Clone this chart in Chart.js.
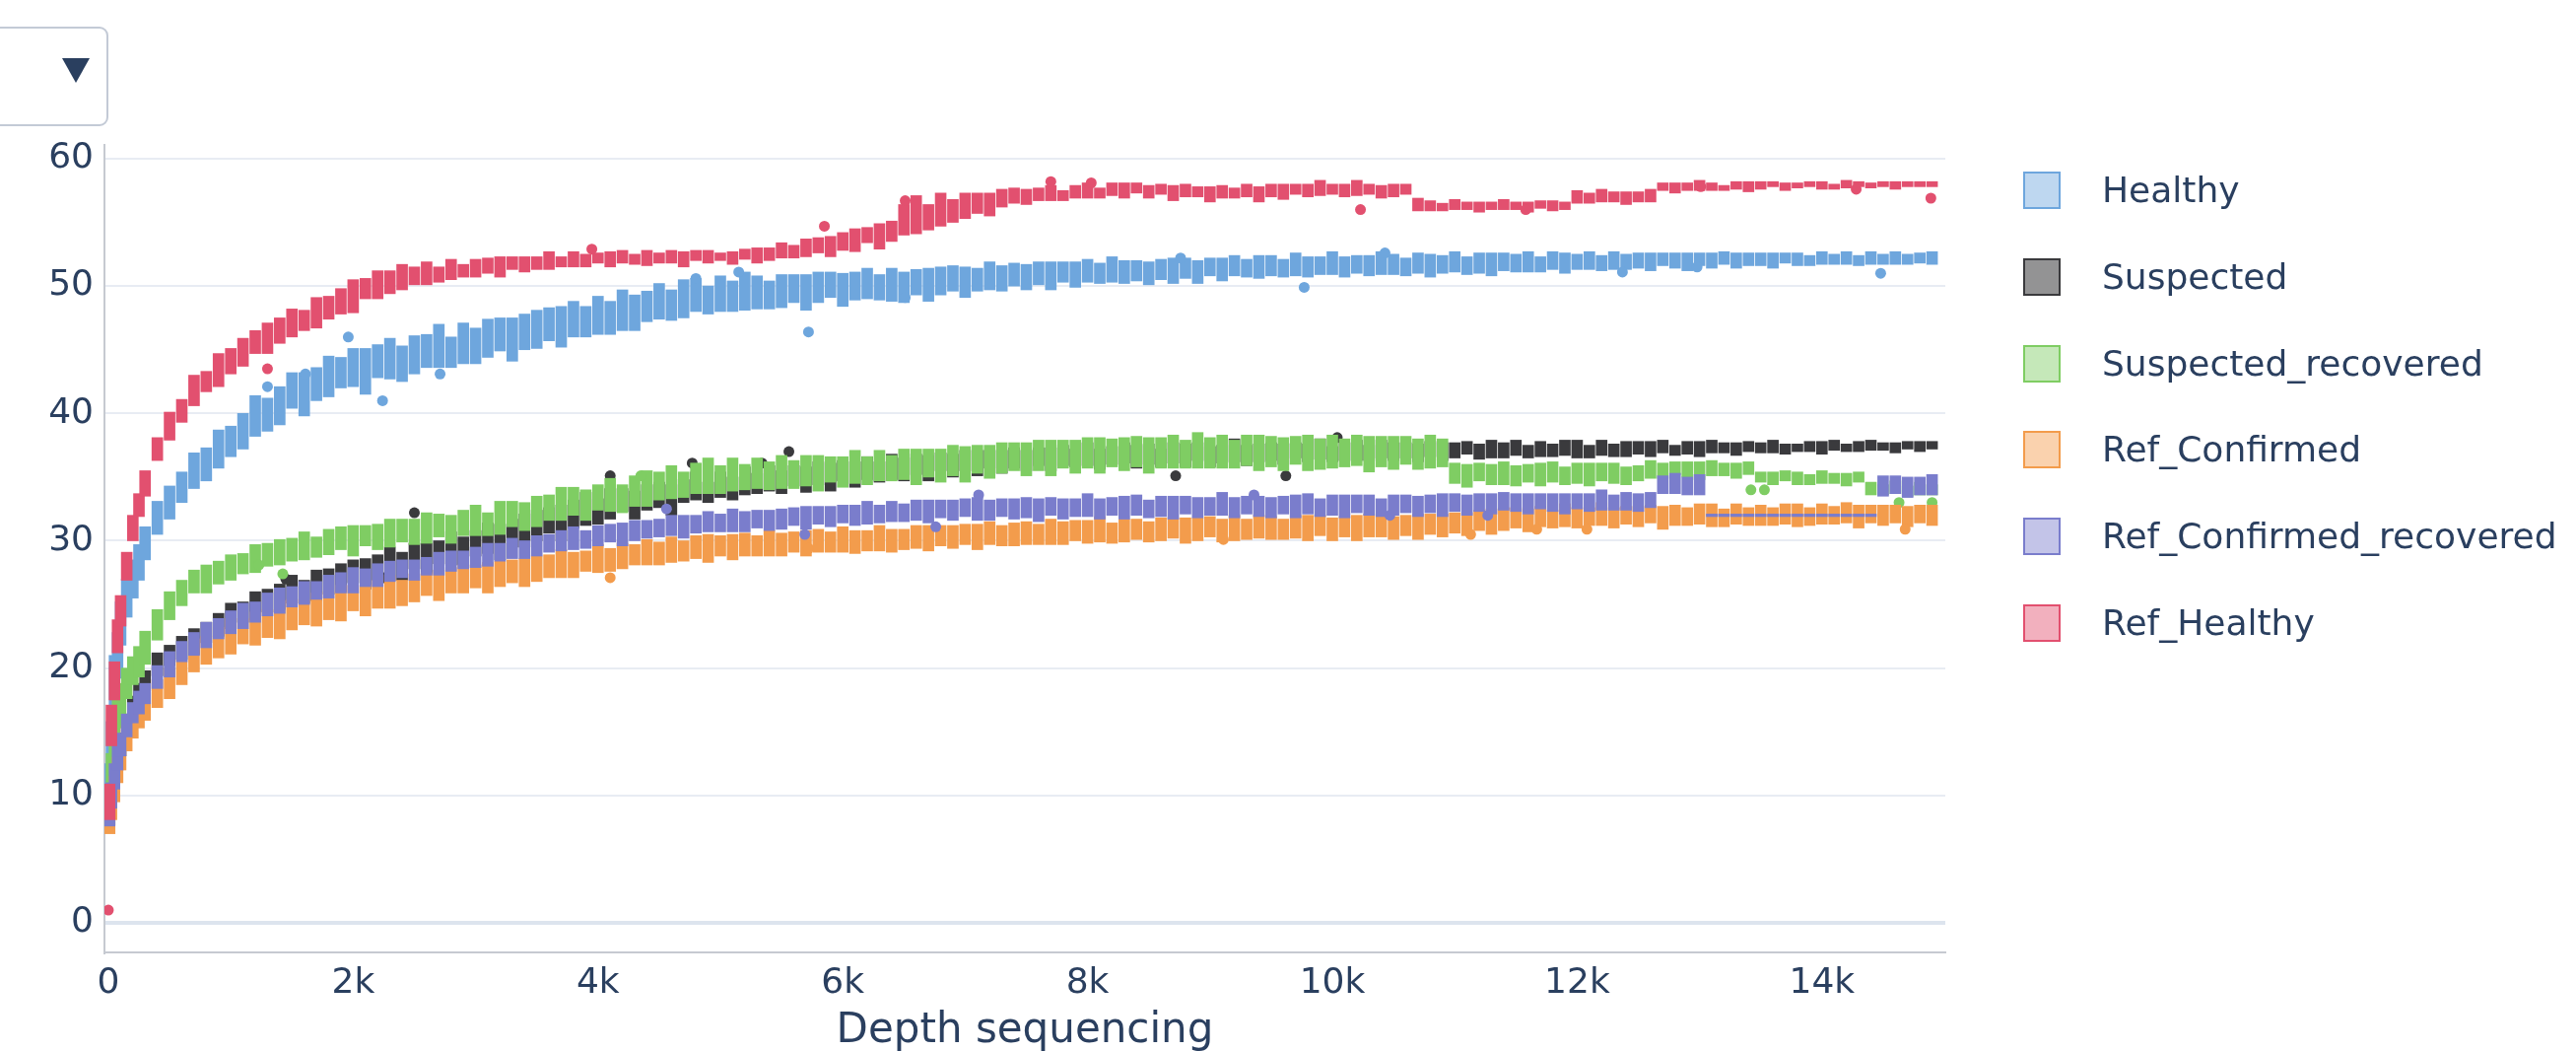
<!DOCTYPE html>
<html><head><meta charset="utf-8">
<script src="https://cdn.jsdelivr.net/npm/chart.js@4.4.1/dist/chart.umd.min.js"></script>
<style>
html,body{margin:0;padding:0;background:#fff;width:2614px;height:1066px;overflow:hidden;position:relative;font-family:"DejaVu Sans",sans-serif;}
#c{position:absolute;left:0;top:0;}
.dd{position:absolute;left:-20px;top:27px;width:126px;height:97px;border:2px solid #c3cad6;border-radius:9px;background:#fff;}
.tri{position:absolute;left:63px;top:59px;width:0;height:0;border-left:14px solid transparent;border-right:14px solid transparent;border-top:25px solid #2a3f5f;}
.li{position:absolute;left:2053px;height:40px;white-space:nowrap;}
.sw{position:absolute;left:0;top:1px;width:34px;height:34px;border:2px solid;}
.lt{position:absolute;left:80px;top:0;font-size:36px;color:#2a3f5f;line-height:40px;}
</style></head>
<body>
<canvas id="c" width="2614" height="1066"></canvas>
<div class="dd"></div><div class="tri"></div>
<div id="legend"></div>
<script>
// ---- categories (sequencing depths) ----
const depths = [
10,25,50,75,100,150,200,250,300,400,
500,600,700,800,900,1000,1100,1200,1300,1400,
1500,1600,1700,1800,1900,2000,2100,2200,2300,2400,
2500,2600,2700,2800,2900,3000,3100,3200,3300,3400,
3500,3600,3700,3800,3900,4000,4100,4200,4300,4400,
4500,4600,4700,4800,4900,5000,5100,5200,5300,5400,
5500,5600,5700,5800,5900,6000,6100,6200,6300,6400,
6500,6600,6700,6800,6900,7000,7100,7200,7300,7400,
7500,7600,7700,7800,7900,8000,8100,8200,8300,8400,
8500,8600,8700,8800,8900,9000,9100,9200,9300,9400,
9500,9600,9700,9800,9900,10000,10100,10200,10300,10400,
10500,10600,10700,10800,10900,11000,11100,11200,11300,11400,
11500,11600,11700,11800,11900,12000,12100,12200,12300,12400,
12500,12600,12700,12800,12900,13000,13100,13200,13300,13400,
13500,13600,13700,13800,13900,14000,14100,14200,14300,14400,
14500,14600,14700,14800,14900];

// ---- box centres and half heights per series ----
const healthyMid = [
11.0,14.0,19.0,21.0,23.5,25.5,27.0,28.3,29.8,31.8,
33.0,34.2,35.5,36.0,37.2,37.8,38.6,39.8,39.9,40.6,
41.8,41.5,42.3,42.9,43.2,43.6,43.3,44.1,44.3,43.9,
44.6,44.9,45.3,44.8,45.5,45.3,45.9,46.2,45.8,46.4,
46.6,47.0,46.8,47.4,47.2,47.7,47.5,48.1,47.9,48.4,
48.8,48.5,49.0,49.3,48.9,49.4,49.2,49.6,49.5,49.3,
49.6,49.8,49.5,49.9,50.1,49.7,50.0,50.2,49.9,50.1,
49.9,50.3,50.1,50.4,50.6,50.3,50.5,50.8,50.6,50.9,
50.7,51.0,50.8,51.1,50.9,51.2,51.0,51.3,51.1,51.2,
51.0,51.3,51.2,51.4,51.1,51.5,51.3,51.6,51.4,51.5,
51.6,51.4,51.7,51.5,51.6,51.8,51.5,51.7,51.6,51.8,
51.7,51.5,51.8,51.6,51.7,51.9,51.6,51.8,51.7,51.9,
51.8,51.9,51.7,52.0,51.8,51.9,52.0,51.8,52.0,51.9,
52.0,51.9,52.1,52.0,51.9,52.1,52.0,52.2,52.0,52.1,
52.1,52.0,52.2,52.1,52.0,52.2,52.1,52.2,52.0,52.2,
52.1,52.2,52.1,52.2,52.2];
const healthyHalf = [
1.5,1.8,2.0,1.8,1.7,1.5,1.5,1.4,1.3,1.3,
1.3,1.2,1.4,1.3,1.5,1.2,1.4,1.6,1.3,1.5,
1.4,1.7,1.3,1.6,1.2,1.5,1.8,1.3,1.6,1.4,
1.5,1.3,1.7,1.2,1.6,1.4,1.5,1.3,1.7,1.4,
1.5,1.3,1.6,1.4,1.2,1.5,1.3,1.6,1.4,1.2,
1.4,1.2,1.5,1.3,1.1,1.4,1.2,1.5,1.3,1.1,
1.3,1.1,1.4,1.2,1.0,1.3,1.1,1.2,1.0,1.3,
1.2,1.0,1.3,1.1,1.0,1.2,0.9,1.1,1.0,0.9,
1.0,0.9,1.1,0.8,1.0,0.9,0.8,1.0,0.9,0.8,
0.9,0.8,1.0,0.8,0.9,0.7,0.9,0.8,0.7,0.9,
0.8,0.7,0.9,0.8,0.7,0.9,0.8,0.7,0.8,0.9,
0.8,0.7,0.8,0.9,0.7,0.8,0.7,0.8,0.9,0.7,
0.7,0.8,0.6,0.7,0.8,0.6,0.7,0.6,0.7,0.6,
0.6,0.7,0.5,0.6,0.7,0.5,0.6,0.5,0.6,0.5,
0.5,0.6,0.4,0.5,0.4,0.5,0.4,0.5,0.4,0.5,
0.4,0.5,0.4,0.4,0.5];

const suspectedMid = [
8.5,10.0,11.5,13.0,14.0,15.5,17.0,18.0,19.0,20.3,
21.0,21.6,22.1,22.8,23.4,24.1,24.4,24.9,25.3,25.6,
26.2,26.0,26.5,26.8,27.1,27.6,27.4,27.9,28.2,28.0,
28.8,28.6,29.1,29.4,29.2,29.8,30.2,29.9,30.6,30.8,
31.2,31.6,31.4,32.1,32.5,32.3,32.9,33.2,32.8,33.4,
33.6,33.2,33.9,34.3,33.8,34.4,34.1,34.7,34.5,34.9,
34.6,35.1,34.8,35.3,35.0,35.5,35.2,35.7,35.4,35.8,
35.6,36.0,35.7,36.2,35.9,36.3,36.1,36.4,36.2,36.5,
36.3,36.6,36.4,36.7,36.5,36.8,36.4,36.7,36.9,36.6,
36.8,36.5,36.9,36.7,37.0,36.6,36.8,37.1,36.7,36.9,
37.0,36.8,37.1,36.9,37.2,36.8,37.0,37.1,36.9,37.2,
37.0,37.1,36.9,37.2,37.0,37.1,37.3,37.0,37.2,37.1,
37.3,37.0,37.2,37.1,37.3,37.2,37.0,37.3,37.1,37.2,
37.3,37.2,37.4,37.1,37.3,37.2,37.4,37.3,37.2,37.4,
37.3,37.4,37.2,37.3,37.4,37.3,37.5,37.3,37.4,37.5,
37.4,37.3,37.5,37.4,37.5];
const suspectedHalf = [
0.8,0.9,1.0,1.0,0.9,0.9,0.8,0.8,0.8,0.9,
0.8,0.9,1.0,0.8,0.9,1.0,0.8,1.1,0.9,1.0,
1.1,0.9,1.2,1.0,1.1,0.9,1.2,1.0,1.3,1.1,
1.0,1.2,0.9,1.3,1.1,1.0,1.2,1.4,1.1,1.3,
1.2,1.0,1.4,1.1,1.3,1.0,1.2,0.9,1.1,1.0,
1.0,1.2,0.9,1.1,0.8,1.0,0.9,1.1,0.8,1.0,
0.9,0.8,1.0,0.9,1.1,0.8,1.0,0.9,0.8,1.0,
0.9,0.8,1.0,0.7,0.9,0.8,1.0,0.7,0.9,0.8,
0.8,0.7,0.9,0.8,0.7,0.9,0.8,0.7,0.8,0.9,
0.8,0.7,0.8,0.9,0.7,0.8,0.7,0.9,0.8,0.7,
0.7,0.8,0.6,0.7,0.8,0.6,0.7,0.8,0.6,0.7,
0.7,0.6,0.7,0.6,0.7,0.6,0.5,0.6,0.7,0.6,
0.6,0.5,0.6,0.5,0.6,0.7,0.5,0.6,0.5,0.6,
0.5,0.6,0.5,0.4,0.5,0.6,0.5,0.4,0.5,0.4,
0.4,0.5,0.4,0.3,0.4,0.5,0.4,0.3,0.4,0.4,
0.3,0.4,0.3,0.4,0.3];

const suspRecMid = [
9.5,12.0,14.5,16.5,17.5,18.8,19.8,20.5,21.6,23.4,
24.9,25.9,26.8,27.0,27.5,27.9,28.2,28.6,28.9,29.1,
29.3,29.6,29.5,29.9,30.2,30.0,30.4,30.3,30.6,30.8,
30.7,31.0,31.2,30.9,31.4,31.6,31.3,31.8,32.1,31.9,
32.3,32.6,32.9,33.1,32.8,33.4,33.6,33.3,33.9,34.1,
34.3,34.6,34.4,34.9,35.1,34.8,35.2,35.0,35.3,35.1,
35.4,35.2,35.5,35.3,35.6,35.4,35.8,35.5,35.9,35.7,
36.0,35.8,36.1,35.9,36.3,36.0,36.4,36.2,36.5,36.6,
36.4,36.7,36.5,36.8,36.6,36.9,36.7,36.9,36.8,37.0,
36.7,36.9,37.0,36.8,37.1,36.9,37.0,36.8,37.1,36.9,
37.0,36.8,37.1,36.9,36.8,37.0,36.9,37.1,36.8,37.0,
36.9,37.1,36.8,37.0,36.9,35.3,35.1,35.4,35.2,35.3,
35.1,35.3,35.2,35.4,35.1,35.3,35.2,35.4,35.3,35.1,
35.3,35.6,35.5,35.7,35.6,35.5,35.7,35.6,35.5,35.7,
35.0,34.9,35.1,34.9,34.8,35.0,34.9,34.8,35.0,34.1,
34.0,34.2,33.9,34.1,34.0];
const suspRecHalf = [
1.2,1.3,1.4,1.2,1.3,1.2,1.1,1.2,1.3,1.2,
1.1,1.0,0.9,1.1,0.9,1.0,0.8,1.1,0.9,1.0,
0.9,1.1,0.8,1.0,0.9,1.2,0.8,1.0,1.1,0.9,
1.0,1.2,0.9,1.1,1.0,1.2,0.9,1.3,1.0,1.1,
1.2,1.0,1.3,1.1,1.2,1.0,1.3,1.1,1.2,1.4,
1.1,1.3,1.0,1.2,1.4,1.1,1.3,1.0,1.2,1.1,
1.3,1.1,1.2,1.4,1.0,1.2,1.3,1.1,1.2,1.0,
1.2,1.4,1.1,1.3,1.2,1.4,1.1,1.3,1.2,1.1,
1.3,1.2,1.4,1.1,1.3,1.2,1.4,1.1,1.3,1.2,
1.4,1.2,1.3,1.1,1.4,1.2,1.3,1.1,1.2,1.4,
1.2,1.3,1.1,1.4,1.2,1.3,1.1,1.2,1.4,1.2,
1.3,1.1,1.2,1.3,1.1,0.8,0.9,0.7,0.8,0.9,
0.8,0.7,0.9,0.8,0.7,0.8,0.9,0.7,0.8,0.7,
0.6,0.7,0.6,0.5,0.6,0.7,0.6,0.5,0.6,0.5,
0.4,0.5,0.4,0.5,0.4,0.5,0.4,0.5,0.4,0.5,
0.4,0.5,0.4,0.5,0.4];

const refConfMid = [
7.8,9.0,10.5,12.0,13.0,14.5,15.5,16.3,17.0,18.0,
18.8,19.7,21.0,21.4,22.0,22.5,22.9,23.1,23.5,23.8,
24.2,24.4,24.6,24.9,25.1,25.5,25.3,25.8,26.0,25.9,
26.3,26.6,26.5,26.9,27.0,27.2,27.1,27.4,27.6,27.5,
27.8,28.0,28.2,28.1,28.4,28.6,28.5,28.8,28.9,29.1,
29.0,29.3,29.2,29.5,29.4,29.6,29.5,29.7,29.6,29.8,
29.7,29.9,29.8,30.0,29.9,30.1,29.9,30.0,30.2,30.0,
30.1,30.3,30.2,30.4,30.3,30.5,30.3,30.6,30.4,30.5,
30.6,30.5,30.7,30.6,30.8,30.7,30.9,30.6,30.8,30.9,
30.7,30.9,31.0,30.8,30.9,31.1,30.8,31.0,30.9,31.1,
31.0,30.9,31.1,31.0,31.2,30.9,31.1,31.0,31.2,31.1,
31.0,31.2,31.1,31.3,31.2,31.4,31.3,31.6,31.5,31.7,
31.8,31.6,31.9,31.7,32.0,31.8,31.9,32.1,31.8,32.0,
31.9,32.1,31.8,32.0,31.9,32.1,32.0,31.8,32.1,31.9,
32.0,31.9,32.1,32.0,31.9,32.1,32.0,32.2,31.9,32.1,
32.0,32.1,31.9,32.1,32.0];
const refConfHalf = [
0.8,0.9,1.0,1.0,1.0,1.0,1.0,1.0,1.1,1.1,
1.2,1.0,1.3,1.1,1.2,1.4,1.0,1.3,1.1,1.5,
1.2,1.0,1.3,1.1,1.4,1.0,1.2,1.1,1.3,1.0,
1.1,0.9,1.2,1.0,1.1,0.9,1.2,1.0,0.9,1.1,
1.0,0.9,1.1,1.0,0.8,1.1,0.9,1.0,0.8,1.0,
0.9,1.0,0.8,0.9,1.1,0.8,1.0,0.9,0.8,1.0,
0.9,0.8,1.0,0.9,0.8,1.0,0.9,0.8,1.0,0.9,
0.8,0.9,1.0,0.8,0.9,0.8,1.0,0.9,0.8,0.9,
0.9,0.8,1.0,0.9,0.8,0.9,1.0,0.8,0.9,0.8,
0.8,0.9,0.8,1.0,0.9,0.8,0.9,1.0,0.8,0.9,
0.9,0.8,0.9,1.0,0.8,0.9,0.8,1.0,0.9,0.8,
0.9,0.8,1.0,0.8,0.9,0.8,0.9,0.8,1.0,0.9,
0.8,0.9,0.8,0.7,0.9,0.8,0.7,0.9,0.8,0.7,
0.8,0.7,0.9,0.8,0.7,0.8,0.9,0.7,0.8,0.7,
0.8,0.7,0.8,0.9,0.7,0.8,0.7,0.8,0.9,0.7,
0.8,0.7,0.8,0.7,0.8];

const refConfRecMid = [
8.5,10.0,11.5,13.0,14.0,15.5,16.5,17.3,18.0,19.3,
20.3,21.3,21.9,22.6,23.1,23.6,24.1,24.4,25.0,25.3,
25.6,25.9,26.1,26.4,26.7,26.9,27.1,27.3,27.6,27.8,
27.7,28.0,28.2,28.4,28.5,28.7,28.9,29.1,29.4,29.3,
29.6,29.8,30.0,30.2,30.1,30.4,30.6,30.5,30.8,30.9,
31.0,31.2,31.1,31.3,31.5,31.4,31.6,31.5,31.7,31.6,
31.7,31.9,31.8,32.0,31.9,32.1,32.0,32.2,32.1,32.3,
32.2,32.4,32.3,32.5,32.4,32.6,32.5,32.4,32.6,32.5,
32.6,32.4,32.7,32.5,32.6,32.8,32.5,32.7,32.6,32.8,
32.5,32.7,32.6,32.8,32.6,32.7,32.9,32.6,32.8,32.7,
32.6,32.8,32.7,32.9,32.6,32.8,32.7,32.9,32.8,32.6,
32.8,32.9,32.7,32.9,32.8,33.0,32.8,33.0,32.9,33.1,
33.0,32.9,33.1,33.0,32.9,33.1,33.0,33.2,33.0,33.1,
33.0,33.2,34.4,34.5,34.3,34.4,32.0,32.0,32.0,32.0,
32.0,32.0,32.0,32.0,32.0,32.0,32.0,32.0,32.0,32.0,
34.3,34.4,34.2,34.3,34.4];
const refConfRecHalf = [
0.9,1.0,1.0,1.0,0.9,0.9,0.8,0.9,0.8,0.9,
1.0,0.8,0.9,1.0,0.8,0.9,1.0,0.8,0.9,1.0,
0.8,0.9,0.7,0.9,0.8,1.0,0.7,0.9,0.8,0.7,
0.8,0.7,0.9,0.8,0.7,0.8,0.9,0.7,0.8,0.7,
0.8,0.7,0.8,0.9,0.7,0.8,0.7,0.9,0.8,0.7,
0.7,0.8,0.9,0.7,0.8,0.7,0.9,0.8,0.7,0.8,
0.8,0.7,0.9,0.7,0.8,0.7,0.8,0.9,0.7,0.8,
0.7,0.8,0.9,0.7,0.8,0.7,0.9,0.8,0.7,0.8,
0.8,0.9,0.7,0.8,0.7,0.9,0.8,0.7,0.9,0.8,
0.7,0.8,0.9,0.7,0.8,0.7,0.9,0.8,0.7,0.8,
0.8,0.7,0.9,0.8,0.7,0.8,0.9,0.7,0.8,0.7,
0.8,0.7,0.8,0.7,0.9,0.7,0.8,0.7,0.8,0.7,
0.7,0.8,0.6,0.7,0.8,0.6,0.7,0.8,0.6,0.7,
0.7,0.6,0.7,0.8,0.7,0.8,0.1,0.1,0.1,0.1,
0.1,0.1,0.1,0.1,0.1,0.1,0.1,0.1,0.1,0.1,
0.8,0.7,0.8,0.7,0.8];

const refHealthyMid = [
9.5,15.5,19.0,22.5,24.5,28.0,31.0,32.8,34.5,37.2,
39.0,40.2,41.8,42.5,43.4,44.1,44.8,45.6,45.9,46.5,
47.1,47.3,47.9,48.3,48.8,49.2,49.8,50.1,50.3,50.7,
50.8,51.0,50.9,51.3,51.2,51.4,51.6,51.5,51.8,51.7,
51.8,52.0,51.9,52.1,52.0,52.2,52.1,52.3,52.1,52.2,
52.2,52.3,52.1,52.4,52.3,52.3,52.2,52.5,52.4,52.5,
52.8,52.7,53.0,53.2,53.1,53.5,53.6,54.0,53.9,54.3,
55.2,55.6,55.4,56.0,55.9,56.3,56.5,56.4,56.9,57.1,
57.0,57.2,57.3,57.1,57.4,57.5,57.3,57.6,57.5,57.7,
57.4,57.6,57.3,57.5,57.4,57.2,57.4,57.3,57.5,57.2,
57.5,57.4,57.6,57.5,57.7,57.6,57.5,57.7,57.6,57.4,
57.5,57.6,56.4,56.3,56.2,56.4,56.3,56.2,56.3,56.4,
56.3,56.2,56.4,56.3,56.3,57.0,56.9,57.1,57.0,56.9,
57.0,57.1,57.8,57.7,57.8,57.9,57.8,57.7,57.9,57.8,
57.9,58.0,57.8,57.9,58.0,57.9,57.8,58.0,58.0,57.9,
58.0,57.9,58.0,58.0,58.0];
const refHealthyHalf = [
1.4,1.6,1.5,1.3,1.2,1.1,1.0,0.9,1.0,0.9,
1.1,0.9,1.2,0.8,1.3,1.0,1.1,0.9,1.2,1.0,
1.1,0.8,1.2,0.9,1.0,1.3,0.8,1.1,0.9,1.0,
0.7,0.9,0.6,0.8,0.5,0.7,0.6,0.8,0.5,0.6,
0.5,0.7,0.4,0.6,0.5,0.4,0.6,0.5,0.4,0.6,
0.4,0.5,0.6,0.4,0.5,0.3,0.5,0.4,0.6,0.5,
0.6,0.5,0.7,0.6,0.8,0.7,0.9,0.6,1.0,0.8,
1.2,1.5,1.0,1.3,0.9,1.0,0.8,0.9,0.7,0.6,
0.6,0.5,0.6,0.4,0.5,0.6,0.4,0.5,0.6,0.4,
0.5,0.4,0.6,0.5,0.4,0.6,0.5,0.4,0.5,0.6,
0.5,0.6,0.4,0.5,0.6,0.4,0.5,0.6,0.4,0.5,
0.5,0.4,0.5,0.4,0.3,0.4,0.3,0.4,0.3,0.4,
0.3,0.4,0.3,0.4,0.3,0.5,0.4,0.5,0.4,0.5,
0.4,0.5,0.3,0.4,0.3,0.4,0.3,0.2,0.3,0.4,
0.3,0.2,0.3,0.2,0.2,0.3,0.2,0.3,0.2,0.2,
0.2,0.3,0.2,0.2,0.2];

// ---- outlier points [depth, value] ----
const healthyOut = [[1300,42.1],[1610,43.1],[1960,46.0],[2240,41.0],[2710,43.1],[4800,50.6],[5150,51.1],[5720,46.4],[6510,49.1],[8760,52.2],[9770,49.9],[10430,52.6],[12370,51.1],[12980,51.5],[14480,51.0]];
const suspectedOut = [[1450,27.0],[2250,27.1],[2500,32.2],[4100,35.1],[4770,36.1],[5340,36.1],[5560,37.0],[8720,35.1],[9620,35.1],[10040,38.1]];
const suspRecOut = [[1230,28.1],[1425,27.4],[4350,35.1],[13420,34.0],[13530,34.0],[14630,33.0],[14900,33.0]];
const refConfOut = [[0,7.5],[4100,27.1],[5720,29.4],[9110,30.1],[11130,30.5],[11670,30.9],[12080,30.9],[14680,30.9]];
const refConfRecOut = [[4560,32.5],[5690,30.5],[6760,31.1],[7110,33.6],[9360,33.6],[10470,32.0],[11270,32.0]];
const refHealthyOut = [[0,1.0],[1300,43.5],[3950,52.9],[5850,54.7],[6510,56.7],[7700,58.2],[8030,58.1],[10230,56.0],[11580,56.0],[13010,57.8],[14280,57.6],[14890,56.9]];

// ---- ticks ----
const xTickValues = [0,2000,4000,6000,8000,10000,12000,14000];
const xTickLabels = ['0','2k','4k','6k','8k','10k','12k','14k'];
const yTickValues = [0,10,20,30,40,50,60];
const yTickLabels = ['0','10','20','30','40','50','60'];

const seriesNames = ['Healthy','Suspected','Suspected_recovered','Ref_Confirmed','Ref_Confirmed_recovered','Ref_Healthy'];
const seriesColors = ['#6ea6dd','#3a3a3d','#7fcd63','#f39c4c','#7a7dcc','#e2506f'];
const seriesFills = ['rgba(110,166,221,0.45)','rgba(58,58,61,0.55)','rgba(127,205,99,0.45)','rgba(243,156,76,0.45)','rgba(122,125,204,0.45)','rgba(226,80,111,0.45)'];
const mids = [healthyMid,suspectedMid,suspRecMid,refConfMid,refConfRecMid,refHealthyMid];
const halves = [healthyHalf,suspectedHalf,suspRecHalf,refConfHalf,refConfRecHalf,refHealthyHalf];
const outs = [healthyOut,suspectedOut,suspRecOut,refConfOut,refConfRecOut,refHealthyOut];

const datasets = [];
seriesNames.forEach((name, si) => {
  const m = mids[si], h = halves[si];
  datasets.push({
    type: 'bar', label: name,
    data: depths.map((d, i) => ({x: d, y: [m[i] - h[i], m[i] + h[i]]})),
    backgroundColor: seriesColors[si], borderWidth: 0, borderSkipped: false,
    barThickness: 11, grouped: false, order: 100 - si * 2
  });
  datasets.push({
    type: 'scatter', label: name + ' outliers',
    data: outs[si].map(p => ({x: p[0], y: p[1]})),
    backgroundColor: seriesColors[si], borderWidth: 0, pointRadius: 5.5,
    order: 99 - si * 2
  });
});

Chart.defaults.font.family = '"DejaVu Sans", sans-serif';
Chart.defaults.color = '#2a3f5f';

new Chart(document.getElementById('c'), {
  type: 'bar',
  data: {datasets},
  options: {
    responsive: false, animation: false, devicePixelRatio: 1,
    layout: {padding: {left: 0, right: 640, top: 147, bottom: 0}},
    plugins: {legend: {display: false}, tooltip: {enabled: false}},
    scales: {
      x: {
        type: 'linear', min: -32, max: 15008, offset: false,
        grid: {display: false, drawTicks: false},
        border: {display: true, color: '#c6cad1', width: 2},
        afterBuildTicks: s => { s.ticks = xTickValues.map(v => ({value: v})); },
        afterFit: s => { s.height = 100; },
        ticks: {autoSkip: false, maxRotation: 0, padding: 10, font: {size: 36}, color: '#2a3f5f',
          callback: (v, i) => xTickLabels[i]},
        title: {display: true, text: 'Depth sequencing', color: '#2a3f5f', font: {size: 42, lineHeight: 0.95}, padding: 0}
      },
      y: {
        type: 'linear', min: -2.32, max: 61.08,
        grid: {drawTicks: false,
          color: c => c.tick && c.tick.value === 0 ? '#dde4ee' : '#e8ecf3',
          lineWidth: c => c.tick && c.tick.value === 0 ? 4 : 2},
        border: {display: true, color: '#c6cad1', width: 2},
        afterBuildTicks: s => { s.ticks = yTickValues.map(v => ({value: v})); },
        afterFit: s => { s.width = 106; },
        ticks: {autoSkip: false, padding: 11, font: {size: 36}, color: '#2a3f5f',
          callback: (v, i) => yTickLabels[i]}
      }
    }
  }
});

// ---- legend ----
const lg = document.getElementById('legend');
seriesNames.forEach((name, i) => {
  const row = document.createElement('div');
  row.className = 'li';
  row.style.top = (173 + i * 87.8) + 'px';
  const sw = document.createElement('div');
  sw.className = 'sw';
  sw.style.borderColor = seriesColors[i];
  sw.style.background = seriesFills[i];
  const t = document.createElement('div');
  t.className = 'lt';
  t.textContent = name;
  row.appendChild(sw); row.appendChild(t);
  lg.appendChild(row);
});
</script>
</body></html>
